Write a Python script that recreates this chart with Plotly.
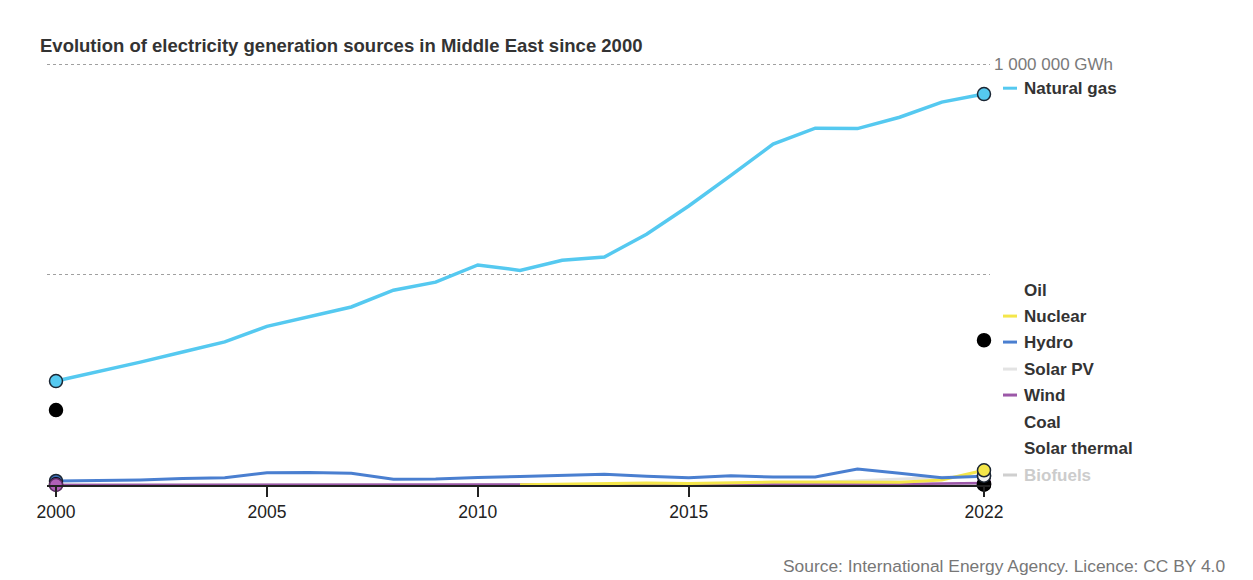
import plotly.graph_objects as go

years = list(range(2000, 2023))

natural_gas = [247000, 269000, 292000, 316000, 340000, 377000, 399000, 423000, 463000, 482000,
               523000, 510000, 534000, 542000, 596000, 663000, 736000, 810000, 848000, 847000,
               874000, 910000, 929000]
hydro = [9500, 10700, 12000, 15400, 17300, 29000, 30000, 28000, 13500, 14000,
         18000, 20000, 22000, 25500, 20500, 17500, 22000, 19000, 19000, 38000,
         28000, 17500, 20500]
nuclear = [None] * 11 + [500, 1300, 3900, 4500, 3500, 6000, 7000, 7000, 6400, 6300, 12000, 35000]
solar_pv = [None] * 9 + [100, 100, 200, 300, 500, 1000, 1500, 2500, 4000,
                         6000, 10000, 14000, 18000, 22000]
wind = [50, 50, 50, 50, 60, 80, 100, 100, 150, 200, 200, 250, 300, 300, 350, 400, 600,
        800, 1200, 1600, 2200, 3200, 4500]
biofuels = [100, 100, 100, 100, 100, 100, 150, 150, 150, 200, 200, 200, 250, 250, 300,
            300, 300, 350, 350, 400, 400, 400, 450]

endpoint_years = [2000, 2022]
oil = [178000, 344000]
coal = [1500, 1500]
solar_thermal = [None, 800]

labels = ["Natural gas", "Oil", "Nuclear", "Hydro", "Solar PV", "Wind", "Coal",
          "Solar thermal", "Biofuels"]
label_colors = ["#55c9f0", None, "#f4e64a", "#4a7fd0", "#e3e3e3", "#9c58a8", None, None, "#cfcfcf"]
label_text_colors = ["#333333"] * 8 + ["#cccccc"]
label_px = [88, 290, 316, 342, 369, 395, 422, 448, 475]

FONT = "Liberation Sans, Arial, sans-serif"

# page body has an 8px default margin: work in reference pixels, shift by OFF
OFF = 8
W, H = 1253 - OFF, 580 - OFF
YMAX = 1010000
L, R, B = 47, 990, 485          # reference pixels
TOP_1M = 64                     # pixel of 1 000 000
ph = (B - TOP_1M) * YMAX / 1000000
T = B - ph
pw = R - L

fig = go.Figure()

def line(y, color, width=3, x=years):
    fig.add_trace(go.Scatter(x=x, y=y, mode="lines", line=dict(color=color, width=width),
                             hoverinfo="skip", showlegend=False, cliponaxis=False,
                             connectgaps=False))

def ends(x, y, fill, outline="#1b2633", which=(2000, 2022)):
    xs, ys = [], []
    for xv, yv in zip(x, y):
        if xv in which and yv is not None:
            xs.append(xv)
            ys.append(yv)
    fig.add_trace(go.Scatter(x=xs, y=ys, mode="markers",
                             marker=dict(size=13, color=fill, line=dict(color=outline, width=1.5)),
                             hoverinfo="skip", showlegend=False, cliponaxis=False))

line(biofuels, "#cfcfcf", 3)
line(solar_pv, "#e3e3e3", 3)
line(wind, "#9c58a8", 2.5)
line(nuclear, "#f4e64a", 3)
line(hydro, "#4a7fd0", 3)
line(natural_gas, "#55c9f0", 3.5)

BLACK = "#000000"
# start-year markers
ends(years, hydro, "#3d6fb8", which=(2000,))
ends(endpoint_years, coal, BLACK, BLACK, which=(2000,))
ends(years, wind, "#b060b8", "#5a2d63", which=(2000,))
# end-year markers
ends(years, hydro, "#3d6fb8", which=(2022,))
ends(years, wind, "#b060b8", "#5a2d63", which=(2022,))
ends(endpoint_years, solar_thermal, BLACK, BLACK, which=(2022,))
ends(endpoint_years, coal, BLACK, BLACK, which=(2022,))
ends(years, solar_pv, "#f2f2f2")
ends(years, nuclear, "#f4e64a")
ends(endpoint_years, oil, BLACK, BLACK)
ends(years, natural_gas, "#55c9f0")

def px_x(px):
    return (px - L) / pw
def px_y(py):
    return (B - py) / ph

annotations = []
shapes = []
for lab, col, tcol, py in zip(labels, label_colors, label_text_colors, label_px):
    annotations.append(dict(xref="paper", yref="paper", x=px_x(1022), y=px_y(py),
                            text="<b>" + lab + "</b>", showarrow=False, xanchor="left",
                            yanchor="middle", font=dict(family=FONT, size=17, color=tcol)))
    if col:
        shapes.append(dict(type="line", xref="paper", yref="paper",
                           x0=px_x(1003), x1=px_x(1017), y0=px_y(py), y1=px_y(py),
                           line=dict(color=col, width=3)))

annotations.append(dict(xref="paper", yref="paper", x=px_x(992), y=px_y(TOP_1M), text="1 000 000 GWh",
                        showarrow=False, xanchor="left", yanchor="middle",
                        font=dict(family=FONT, size=17, color="#7a7a7a")))
annotations.append(dict(xref="paper", yref="paper", x=px_x(1227), y=px_y(566),
                        text="Source: International Energy Agency. Licence: CC BY 4.0",
                        showarrow=False, xanchor="right", yanchor="middle",
                        font=dict(family=FONT, size=17.4, color="#777777")))

x0 = 2000 - (56 - L) / 42.18
x1 = 2022 + (R - 984) / 42.18

fig.update_layout(
    width=W, height=H,
    margin=dict(l=L - OFF, r=(1253 - R), t=T - OFF, b=(580 - B)),
    paper_bgcolor="white", plot_bgcolor="white",
    title=dict(text="<b>Evolution of electricity generation sources in Middle East since 2000</b>",
               x=(40 - OFF) / W, xref="container", xanchor="left",
               y=1 - (46 - OFF) / H, yref="container", yanchor="middle",
               font=dict(family=FONT, size=18.5, color="#333333")),
    xaxis=dict(range=[x0, x1], tickvals=[2000, 2005, 2010, 2015, 2022],
               ticks="outside", ticklen=10, tickwidth=1.5, tickcolor="#222222",
               showline=True, linecolor="#222222", linewidth=1.5, showgrid=False,
               zeroline=False, fixedrange=True,
               tickfont=dict(family=FONT, size=17.5, color="#222222")),
    yaxis=dict(range=[0, YMAX], tickvals=[500000, 1000000], showticklabels=False,
               showgrid=True, gridcolor="#a0a0a0", griddash="dot", gridwidth=1,
               zeroline=False, showline=False, ticks="", fixedrange=True),
    annotations=annotations,
    shapes=shapes,
    showlegend=False,
)

fig.write_html("out.html")
